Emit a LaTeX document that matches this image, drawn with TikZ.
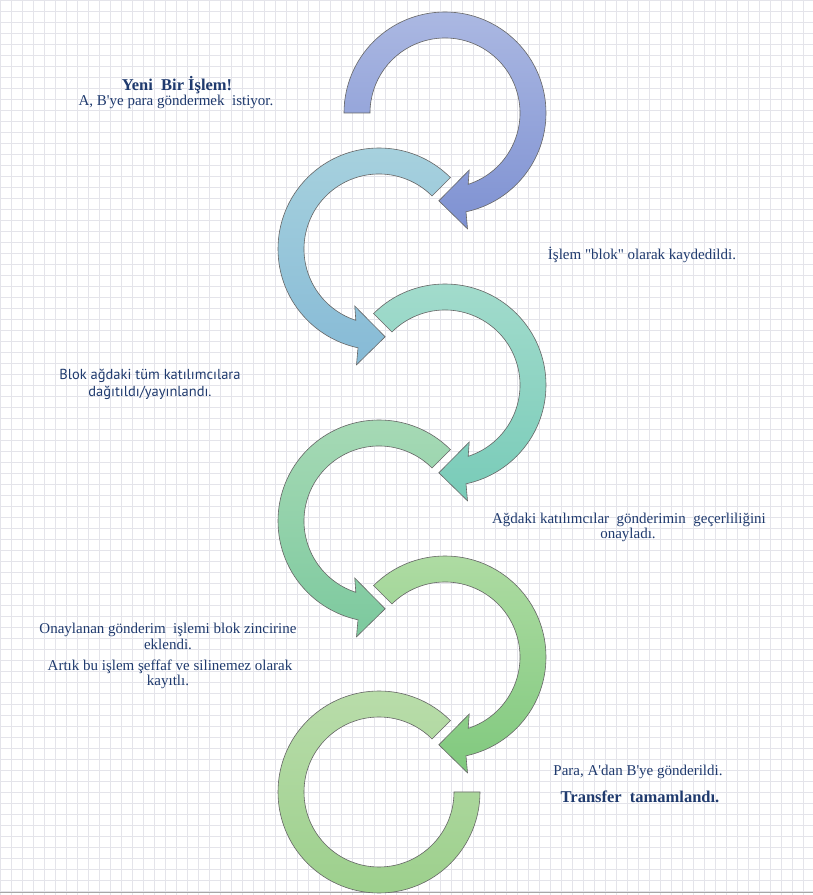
\documentclass[tikz,border=0pt]{standalone}
\usepackage{fontspec}
\setmainfont{Liberation Serif}[Ligatures=TeXOff]
\newfontfamily\sansblok{PT Sans}[Ligatures=TeXOff]
\definecolor{txt}{HTML}{1F3A6E}
\definecolor{gridc}{HTML}{E4E4EA}
\definecolor{aAt}{HTML}{ABB8E2}\definecolor{aAb}{HTML}{7E91D2}
\definecolor{aBt}{HTML}{A8D2DE}\definecolor{aBb}{HTML}{86BAD6}
\definecolor{aCt}{HTML}{A4DCCD}\definecolor{aCb}{HTML}{78CBB8}
\definecolor{aDt}{HTML}{A8DAB6}\definecolor{aDb}{HTML}{7CC99E}
\definecolor{aEt}{HTML}{B0DCA4}\definecolor{aEb}{HTML}{80C97E}
\definecolor{aFt}{HTML}{BADDAB}\definecolor{aFb}{HTML}{9BCF8B}
\tikzset{
  arrowline/.style={draw=black!60, line width=0.6pt, line join=miter},
  gridln/.style={draw=gridc, line width=0.6pt},
  lbl/.style={text=txt, inner sep=0pt, anchor=center, font=\fontsize{15}{17}\selectfont},
  lblb/.style={text=txt, inner sep=0pt, anchor=center, font=\fontsize{16.5}{18}\selectfont\bfseries},
  lbls/.style={text=txt, inner sep=0pt, anchor=center, font=\sansblok\fontsize{14.5}{17}\selectfont},
}
\newcommand\cwarrow[4]{%
  \path[arrowline, top color=#3, bottom color=#4]
  ([shift={(#2:101)}]#1) arc[start angle=#2, end angle=-78, radius=101]
  -- ([shift={(-79:118)}]#1) -- ([shift={(-94:88)}]#1) -- ([shift={(-67:62)}]#1)
  -- ([shift={(-72:75)}]#1) arc[start angle=-72, end angle=#2, radius=75] -- cycle;}
\newcommand\ccwarrow[4]{%
  \path[arrowline, top color=#3, bottom color=#4]
  ([shift={(#2:101)}]#1) arc[start angle=#2, end angle=258, radius=101]
  -- ([shift={(259:118)}]#1) -- ([shift={(274:88)}]#1) -- ([shift={(247:62)}]#1)
  -- ([shift={(252:75)}]#1) arc[start angle=252, end angle=#2, radius=75] -- cycle;}
\begin{document}
\begin{tikzpicture}[x=1pt,y=1pt]
\useasboundingbox (0,0) rectangle (813,895);
\fill[white] (0,0) rectangle (813,895);
\foreach \i in {0,...,74} \draw[gridln] (\i*11,0) -- (\i*11,895);
\foreach \j in {0,...,81} \draw[gridln] (0,895-\j*11) -- (813,895-\j*11);
\draw[black!35, line width=1pt] (0,2) -- (813,2);
% centres
\coordinate (c1) at (445,782);
\coordinate (c2) at (379,646);
\coordinate (c3) at (445,510);
\coordinate (c4) at (379,374);
\coordinate (c5) at (445,238);
\coordinate (c6) at (379,103);
\cwarrow{c1}{180}{aAt}{aAb}
\ccwarrow{c2}{45}{aBt}{aBb}
\cwarrow{c3}{135}{aCt}{aCb}
\ccwarrow{c4}{45}{aDt}{aDb}
\cwarrow{c5}{135}{aEt}{aEb}
\path[arrowline, top color=aFt, bottom color=aFb]
  ([shift={(45:101)}]c6) arc[start angle=45, end angle=360, radius=101]
  -- ([shift={(0:75)}]c6) arc[start angle=360, end angle=45, radius=75] -- cycle;
% labels
\node[lblb] (t1a) at (177,810) {Yeni\ \ Bir İşlem!};
\node[lbl]  (t1b) at (176,793) {A, B'ye para göndermek\ \ istiyor.};
\node[lbl]  (t2)  at (642,640) {İşlem "blok" olarak kaydedildi.};
\node[lbls] (t3a) at (150,519) {Blok ağdaki tüm katılımcılara};
\node[lbls] (t3b) at (150,502) {dağıtıldı/yayınlandı.};
\node[lbl]  (t4a) at (629,375) {Ağdaki katılımcılar\ \ gönderimin\ \ geçerliliğini};
\node[lbl]  (t4b) at (628,360) {onayladı.};
\node[lbl]  (t5a) at (168,265) {Onaylanan gönderim\ \ işlemi blok zincirine};
\node[lbl]  (t5b) at (168,251) {eklendi.};
\node[lbl]  (t5c) at (170,228) {Artık bu işlem şeffaf ve silinemez olarak};
\node[lbl]  (t5d) at (168,213) {kayıtlı.};
\node[lbl]  (t6a) at (638,123) {Para, A'dan B'ye gönderildi.};
\node[lblb] (t6b) at (640,98) {Transfer\ \ tamamlandı.};
\end{tikzpicture}
\end{document}
